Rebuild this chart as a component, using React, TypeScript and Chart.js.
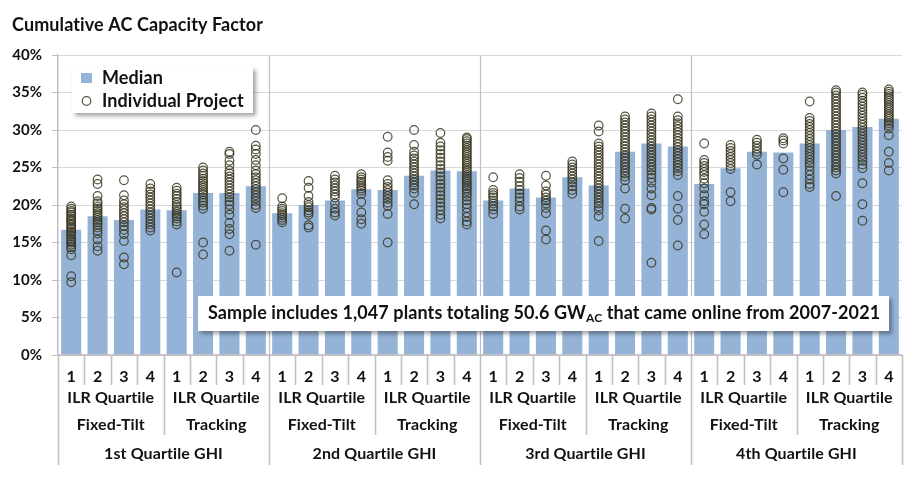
import { useEffect, useRef } from "react";
import { Chart, registerables } from "chart.js";

Chart.register(...registerables);

const titleText = "Cumulative AC Capacity Factor";
const ilrLabels = ["1", "2", "3", "4"];
const mountTypes = ["Fixed-Tilt", "Tracking"];
const ghiLabels = ["1st Quartile GHI", "2nd Quartile GHI", "3rd Quartile GHI", "4th Quartile GHI"];
const yTickValues = [0, 5, 10, 15, 20, 25, 30, 35, 40];
const noteMain = "Sample includes 1,047 plants totaling 50.6 GW";
const noteSub = "AC";
const noteEnd = " that came online from 2007-2021";

// Median cumulative AC capacity factor (%), ordered GHI quartile > mount type > ILR quartile
const medianCF = [
  16.7, 18.5, 18.0, 19.4, 19.3, 21.6, 21.6, 22.5,
  18.9, 20.0, 20.6, 22.1, 22.0, 23.9, 24.6, 24.5,
  20.6, 22.2, 21.0, 23.7, 22.6, 27.1, 28.2, 27.8,
  22.8, 24.9, 27.1, 27.0, 28.2, 30.0, 30.4, 31.5,
];

// Individual projects (%), one list per ILR quartile
const q1Fixed = [
  [19.8, 19.5, 19.2, 19.0, 18.7, 18.5, 18.2, 18.0, 17.8, 17.5, 17.3, 17.0, 16.8, 16.5, 16.3, 16.0, 15.8, 15.5, 15.2, 15.0, 14.7, 14.4, 14.1, 13.3, 10.5, 9.7],
  [23.4, 22.8, 21.2, 20.5, 20.2, 19.8, 19.5, 19.2, 18.9, 18.6, 18.3, 18.0, 17.7, 17.4, 17.0, 16.6, 16.2, 15.4, 14.5, 13.9],
  [23.3, 21.3, 20.6, 20.1, 19.7, 19.3, 18.9, 18.5, 18.1, 17.7, 17.2, 16.7, 16.1, 15.2, 13.0, 12.1],
  [22.8, 22.2, 21.8, 21.4, 21.0, 20.6, 20.2, 19.8, 19.4, 19.0, 18.6, 18.2, 17.8, 17.4, 17.0, 16.6],
];
const q1Tracking = [
  [22.3, 21.9, 21.5, 21.2, 20.8, 20.4, 20.0, 19.7, 19.4, 19.1, 18.8, 18.5, 18.2, 17.8, 17.4, 11.0],
  [25.0, 24.6, 24.2, 23.9, 23.5, 23.2, 22.9, 22.6, 22.3, 22.0, 21.7, 21.4, 21.0, 20.6, 20.3, 19.9, 19.5, 15.0, 13.4],
  [27.1, 26.8, 25.9, 25.3, 24.6, 24.2, 23.8, 23.4, 23.0, 22.6, 22.2, 21.8, 21.4, 21.0, 20.5, 20.0, 19.4, 18.7, 17.6, 16.8, 16.1, 13.9],
  [30.0, 27.9, 27.4, 26.8, 26.0, 25.3, 24.6, 24.1, 23.7, 23.3, 22.9, 22.5, 22.1, 21.7, 21.3, 20.9, 20.5, 20.0, 19.6, 14.7],
];
const q2Fixed = [
  [20.9, 19.8, 19.5, 19.2, 18.9, 18.6, 18.3, 18.0, 17.7],
  [23.2, 22.3, 21.2, 20.4, 20.0, 19.7, 19.3, 19.0, 18.7, 17.3, 17.0],
  [23.9, 23.4, 23.0, 22.6, 22.2, 21.8, 21.4, 21.0, 20.2, 19.5, 19.0, 18.6],
  [24.1, 23.7, 23.4, 23.1, 22.8, 22.5, 22.2, 21.9, 21.5, 20.4, 19.0, 18.1, 17.5],
];
const q2Tracking = [
  [29.1, 27.0, 26.4, 25.9, 23.3, 22.8, 22.4, 22.0, 21.6, 21.2, 20.8, 20.3, 19.9, 18.8, 15.0],
  [30.0, 28.0, 27.1, 26.6, 26.2, 25.8, 25.4, 25.0, 24.6, 24.2, 23.8, 23.4, 23.0, 22.6, 22.2, 21.6, 20.1],
  [29.6, 28.3, 27.8, 27.3, 26.8, 26.3, 25.8, 25.3, 24.8, 24.3, 23.8, 23.3, 22.8, 22.3, 21.8, 21.3, 20.8, 20.3, 19.8, 19.3, 18.7, 18.2],
  [29.0, 28.8, 28.5, 28.2, 27.9, 27.6, 27.3, 27.0, 26.7, 26.4, 26.1, 25.8, 25.5, 25.2, 24.9, 24.6, 24.3, 24.0, 23.7, 23.4, 23.1, 22.8, 22.5, 22.2, 21.9, 21.5, 21.1, 20.6, 20.1, 19.6, 19.0, 18.4, 17.8, 17.4],
];
const q3Fixed = [
  [23.7, 22.0, 21.6, 21.3, 21.0, 20.6, 20.2, 19.8, 19.4, 18.8],
  [24.1, 23.6, 23.1, 22.5, 22.0, 21.5, 21.0, 20.5, 19.8, 19.4],
  [23.9, 22.6, 21.8, 21.4, 21.0, 20.6, 20.2, 19.6, 18.9, 16.6, 15.4],
  [25.8, 25.4, 25.0, 24.6, 24.2, 23.8, 23.4, 23.0, 22.5, 22.0, 21.5],
];
const q3Tracking = [
  [30.6, 29.8, 28.2, 27.8, 27.4, 27.0, 26.6, 26.2, 25.8, 25.4, 25.0, 24.6, 24.2, 23.8, 23.4, 23.0, 22.6, 22.2, 21.8, 21.4, 21.0, 20.6, 20.2, 19.8, 19.3, 18.5, 15.2],
  [31.8, 31.4, 31.0, 30.6, 30.2, 29.8, 29.4, 29.0, 28.6, 28.2, 27.8, 27.4, 27.0, 26.6, 26.2, 25.8, 25.4, 25.0, 24.6, 24.2, 23.8, 23.3, 22.2, 19.5, 18.2],
  [32.2, 31.8, 31.4, 31.0, 30.6, 30.2, 29.8, 29.4, 29.0, 28.6, 28.2, 27.8, 27.4, 27.0, 26.6, 26.2, 25.8, 25.4, 25.0, 24.6, 24.1, 23.6, 23.0, 22.2, 21.3, 19.6, 19.4, 12.3],
  [34.1, 31.8, 31.3, 30.9, 30.5, 30.1, 29.7, 29.3, 28.9, 28.5, 28.1, 27.7, 27.3, 26.9, 26.5, 26.1, 25.7, 25.3, 24.9, 24.5, 24.0, 21.2, 19.5, 18.0, 14.6],
];
const q4Fixed = [
  [28.2, 26.0, 25.6, 25.2, 24.8, 24.4, 24.0, 23.5, 22.9, 22.2, 21.3, 20.5, 20.1, 19.1, 17.4, 16.1],
  [28.0, 27.6, 27.2, 26.8, 26.4, 26.0, 25.6, 25.2, 24.8, 21.7, 20.5],
  [28.7, 28.3, 27.9, 27.5, 27.1, 26.7, 25.4],
  [28.9, 28.6, 28.2, 26.2, 24.7, 21.7],
];
const q4Tracking = [
  [33.8, 31.6, 31.2, 30.8, 30.4, 30.0, 29.6, 29.2, 28.8, 28.4, 28.0, 27.6, 27.2, 26.8, 26.4, 26.0, 25.6, 25.2, 24.6, 24.0, 23.4, 22.8, 22.4],
  [35.3, 35.0, 34.6, 34.2, 33.8, 33.4, 33.0, 32.6, 32.2, 31.8, 31.4, 31.0, 30.6, 30.2, 29.8, 29.4, 29.0, 28.6, 28.2, 27.8, 27.4, 27.0, 26.6, 26.2, 25.8, 25.4, 25.0, 24.6, 24.2, 21.2],
  [35.0, 34.7, 34.3, 33.9, 33.5, 33.1, 32.7, 32.3, 31.9, 31.5, 31.1, 30.7, 30.3, 29.9, 29.5, 29.1, 28.7, 28.3, 27.9, 27.5, 27.1, 26.7, 26.3, 25.9, 25.4, 24.9, 22.9, 20.1, 17.9],
  [35.4, 35.1, 34.8, 34.5, 34.2, 33.9, 33.6, 33.3, 33.0, 32.7, 32.4, 32.1, 31.8, 31.5, 31.2, 30.9, 30.6, 30.2, 29.3, 27.1, 25.6, 24.6],
];

const FONT = "Lato, 'Open Sans', sans-serif";
const TEXT = "#111111";
const BAR = "#95b3d7";
const POINT = "rgba(58,54,32,0.85)";
const LINE = "#c0c0c0";

const categories: string[] = [];
ghiLabels.forEach((g) => mountTypes.forEach((m) => ilrLabels.forEach((i) => categories.push(`${g}|${m}|${i}`))));

const projectGroups = [q1Fixed, q1Tracking, q2Fixed, q2Tracking, q3Fixed, q3Tracking, q4Fixed, q4Tracking];
const projectPoints: { x: string; y: number }[] = [];
projectGroups.forEach((group, gi) =>
  group.forEach((vals, ii) => vals.forEach((v) => projectPoints.push({ x: categories[gi * 4 + ii], y: v })))
);

const overlayPlugin = {
  id: "overlay",
  beforeDatasetsDraw(chart: any) {
    const { ctx, chartArea, scales } = chart;
    const x = scales.x;
    const w = (x.right - x.left) / categories.length;
    ctx.save();
    ctx.strokeStyle = LINE;
    ctx.lineWidth = 1.2;
    for (let k = 8; k < categories.length; k += 8) {
      const bx = Math.round(x.getPixelForValue(k) - w / 2) + 0.5;
      ctx.beginPath();
      ctx.moveTo(bx, chartArea.top);
      ctx.lineTo(bx, chartArea.bottom);
      ctx.stroke();
    }
    ctx.restore();
  },
  afterDatasetsDraw(chart: any) {
    const { ctx, chartArea, scales } = chart;
    const x = scales.x;
    const n = categories.length;
    const w = (x.right - x.left) / n;
    const bottom = chartArea.bottom;
    const boundary = (k: number) => (k < n ? x.getPixelForValue(k) - w / 2 : x.getPixelForValue(n - 1) + w / 2);
    ctx.save();
    try {
      (ctx as any).letterSpacing = "0.1px";
    } catch (e) {}
    // axis line
    ctx.strokeStyle = "#b8b8b8";
    ctx.lineWidth = 1.5;
    ctx.beginPath();
    ctx.moveTo(chartArea.left, bottom);
    ctx.lineTo(chartArea.right, bottom);
    ctx.stroke();
    // separators below axis
    ctx.strokeStyle = LINE;
    ctx.lineWidth = 1.6;
    for (let k = 0; k <= n; k++) {
      const bx = Math.round(boundary(k)) + 0.5;
      let len = 30;
      if (k % 8 === 0) len = 110;
      else if (k % 4 === 0) len = 80;
      ctx.beginPath();
      ctx.moveTo(bx, bottom);
      ctx.lineTo(bx, bottom + len);
      ctx.stroke();
    }
    // multi-level labels
    ctx.fillStyle = TEXT;
    ctx.textAlign = "center";
    ctx.textBaseline = "middle";
    ctx.font = `bold 16px ${FONT}`;
    for (let g = 0; g < 8; g++) {
      const cx = (boundary(g * 4) + boundary(g * 4 + 4)) / 2;
      ctx.fillText("ILR Quartile", cx, bottom + 43);
      ctx.fillText(mountTypes[g % 2], cx, bottom + 70);
    }
    for (let q = 0; q < 4; q++) {
      const cx = (boundary(q * 8) + boundary(q * 8 + 8)) / 2;
      ctx.fillText(ghiLabels[q], cx, bottom + 99);
    }

    // legend box
    const drawBox = (bx: number, by: number, bw: number, bh: number) => {
      ctx.save();
      ctx.shadowColor = "rgba(0,0,0,0.35)";
      ctx.shadowOffsetX = 3;
      ctx.shadowOffsetY = 3;
      ctx.shadowBlur = 4;
      ctx.fillStyle = "#ffffff";
      ctx.fillRect(bx, by, bw, bh);
      ctx.restore();
    };
    drawBox(72, 67, 181, 46);
    ctx.fillStyle = BAR;
    ctx.fillRect(81, 73, 11, 10);
    ctx.strokeStyle = POINT;
    ctx.lineWidth = 1.2;
    ctx.beginPath();
    ctx.arc(86.5, 101, 4.3, 0, Math.PI * 2);
    ctx.stroke();
    ctx.fillStyle = TEXT;
    ctx.textAlign = "left";
    ctx.font = `bold 18px ${FONT}`;
    ctx.fillText(chart.data.datasets[1].label, 102, 78);
    ctx.fillText(chart.data.datasets[0].label, 102, 101);

    // note box
    drawBox(198, 296, 691, 35);
    ctx.fillStyle = TEXT;
    ctx.font = `bold 18px ${FONT}`;
    let tx = 208;
    const ty = 313;
    ctx.fillText(noteMain, tx, ty);
    tx += ctx.measureText(noteMain).width;
    ctx.font = `bold 12px ${FONT}`;
    ctx.fillText(noteSub, tx, ty + 5);
    tx += ctx.measureText(noteSub).width;
    ctx.font = `bold 18px ${FONT}`;
    ctx.fillText(noteEnd, tx, ty);

    // title
    ctx.font = `bold 18px ${FONT}`;
    ctx.textBaseline = "alphabetic";
    ctx.fillText(titleText, 12, 31);
    ctx.restore();
  },
};

export default function App() {
  const canvasRef = useRef<HTMLCanvasElement | null>(null);

  useEffect(() => {
    const canvas = canvasRef.current;
    if (!canvas) return;
    const chart = new Chart(canvas, {
      type: "bar",
      data: {
        labels: categories,
        datasets: [
          {
            type: "scatter",
            label: "Individual Project",
            data: projectPoints as any,
            pointRadius: 4.3,
            pointHoverRadius: 4.3,
            pointBorderWidth: 1.2,
            pointBackgroundColor: "rgba(0,0,0,0)",
            pointBorderColor: POINT,
            order: 0,
          } as any,
          {
            type: "bar",
            label: "Median",
            data: medianCF,
            backgroundColor: BAR,
            barPercentage: 0.76,
            categoryPercentage: 1,
            order: 1,
          },
        ],
      },
      options: {
        animation: false,
        responsive: true,
        maintainAspectRatio: false,
        layout: { padding: { top: 55, right: 14, left: 0, bottom: 0 } },
        plugins: {
          legend: { display: false },
          tooltip: { enabled: false },
          title: { display: false },
        },
        scales: {
          x: {
            type: "category",
            offset: true,
            grid: { display: false, drawTicks: false },
            border: { display: false },
            ticks: {
              autoSkip: false,
              maxRotation: 0,
              padding: 12,
              color: TEXT,
              font: { family: FONT, size: 16, weight: "bold" },
              callback: (_v: any, i: number) => ilrLabels[i % 4],
            },
            afterFit: (s: any) => {
              s.height = 126;
            },
          },
          y: {
            min: 0,
            max: 40,
            afterBuildTicks: (s: any) => {
              s.ticks = yTickValues.map((v) => ({ value: v }));
            },
            grid: { color: "#d9d9d9", tickColor: "#bfbfbf", tickLength: 6, lineWidth: 1 },
            border: { color: "#bfbfbf", width: 1.5 },
            ticks: {
              padding: 10,
              color: TEXT,
              font: { family: FONT, size: 15, weight: "bold" },
              callback: (v: any) => `${v}%`,
            },
            afterFit: (s: any) => {
              s.width = 58;
            },
          },
        },
      },
      plugins: [overlayPlugin],
    });
    return () => chart.destroy();
  }, []);

  return (
    <div style={{ position: "fixed", left: 0, top: 0, width: 916, height: 481, background: "#fff" }}>
      <canvas ref={canvasRef} />
    </div>
  );
}
